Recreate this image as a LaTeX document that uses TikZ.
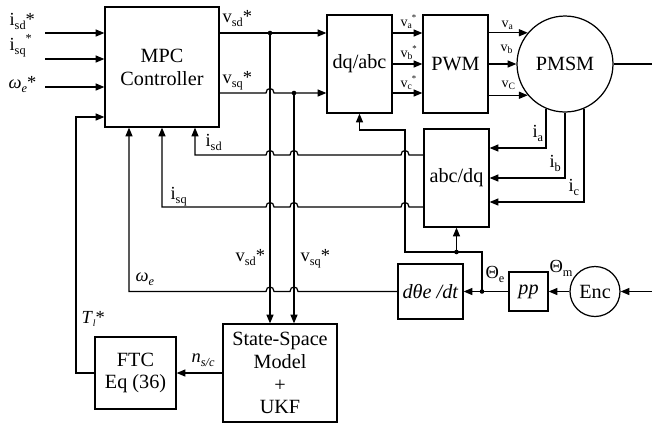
\documentclass[tikz,border=0pt]{standalone}
\usepackage{fontspec}
\setmainfont{Liberation Serif}
\usetikzlibrary{arrows.meta}

\newcommand{\sub}[1]{\raisebox{-0.5ex}{\fontsize{7}{7}\selectfont #1}}
\newcommand{\ssub}[1]{\raisebox{-0.4ex}{\fontsize{5.5}{6}\selectfont #1}}
% small jumps of a horizontal line over a vertical one
\newcommand{\hopl}[2]{-- (#1+4,#2) .. controls (#1+4,#2-6) and (#1-4,#2-6) .. (#1-4,#2)}
\newcommand{\hopr}[2]{-- (#1-4,#2) .. controls (#1-4,#2-6) and (#1+4,#2-6) .. (#1+4,#2)}

\begin{document}
\begin{tikzpicture}[x=0.02cm, y=-0.02cm, line width=0.7pt,
  blk/.style={draw, inner sep=0pt, align=center, font=\fontsize{11.5}{13}\selectfont},
  arr/.style={-{Triangle[length=5pt,width=4pt]}},
  lbl/.style={inner sep=0pt, anchor=base west, font=\fontsize{10.5}{12}\selectfont},
  slbl/.style={inner sep=0pt, anchor=base west, font=\fontsize{8}{9}\selectfont}]

	\useasboundingbox (0,0) rectangle (652,424);

	% blocks
	\node[blk, minimum width=2.28cm, minimum height=2.4cm] (mpc) at (162,67) {MPC\\Controller};
	\node[blk, minimum width=1.3cm, minimum height=1.96cm] (dqabc) at (359.5,64) {dq/abc};
	\node[blk, minimum width=1.3cm, minimum height=1.96cm] (pwm) at (455.5,64) {PWM};
	\node[blk, circle, minimum size=1.92cm] (pmsm) at (565,64) {PMSM};
	\node[blk, minimum width=1.3cm, minimum height=1.96cm] (abcdq) at (456.5,178) {abc/dq};
	\node[blk, minimum width=1.3cm, minimum height=1.1cm] (dth) at (430.5,291.5) {\textit{dθe /dt}};
	\node[blk, minimum size=0.78cm] (pp) at (528.5,291.5) {\textit{pp}};
	\node[blk, circle, minimum size=1cm] (enc) at (595,291.5) {Enc};
	\node[blk, minimum width=2.28cm, minimum height=1.96cm] (ssm) at (280,373) {State-Space\\Model\\+\\UKF};
	\node[blk, minimum width=1.62cm, minimum height=1.44cm] (ftc) at (135.5,373) {FTC\\Eq (36)};

	\coordinate (isdref) at (45,33);
	\coordinate (isqref) at (45,59);
	\coordinate (weref) at (45,87);
	\coordinate (vsd) at (270,33);
	\coordinate (vsq) at (294,93);
	\coordinate (ia) at (546,148);
	\coordinate (ic) at (584,202);
	\coordinate (isd) at (195,155);
	\coordinate (isq) at (162,207);
	\coordinate (we) at (129,291.5);
	\coordinate (the) at (482,291.5);
	\coordinate (tj) at (456.5,252);
	\coordinate (tl) at (76,117);
	\coordinate (shaft) at (652,64);
	\coordinate (encin) at (652,291.5);

	% references
	\draw[arr] (isdref) -- (isdref -| mpc.west);
	\draw[arr] (isqref) -- (isqref -| mpc.west);
	\draw[arr] (weref) -- (weref -| mpc.west);

	% voltage commands
	\draw[arr] (mpc.east |- vsd) -- (vsd -| dqabc.west);
	\draw[arr] (mpc.east |- vsq) \hopr{270}{93} -- (vsq -| dqabc.west);
	\fill (vsd) circle (1.3pt);
	\fill (vsq) circle (1.3pt);
	\draw[arr] (vsd) -- (vsd |- ssm.north);
	\draw[arr] (vsq) -- (vsq |- ssm.north);

	\draw[arr] (dqabc.east |- vsd) -- (pwm.west |- vsd);
	\draw[arr] (dqabc.east) -- (pwm.west);
	\draw[arr] (dqabc.east |- vsq) -- (pwm.west |- vsq);

	\draw[arr] (pwm.east |- pmsm.140) -- (pmsm.140);
	\draw[arr] (pwm.east) -- (pmsm.west);
	\draw[arr] (pwm.east |- pmsm.220) -- (pmsm.220);
	\draw (pmsm.east) -- (shaft);

	% currents
	\draw[arr] (pmsm.247) |- (abcdq.east |- ia);
	\draw[arr] (pmsm.south) |- (abcdq.east);
	\draw[arr] (pmsm.293) |- (abcdq.east |- ic);

	\draw[arr] (abcdq.west |- isd) \hopl{405}{155} \hopl{294}{155} \hopl{270}{155} -- (isd) -- (isd |- mpc.south);
	\draw[arr] (abcdq.west |- isq) \hopl{405}{207} \hopl{294}{207} \hopl{270}{207} -- (isq) -- (isq |- mpc.south);

	% speed and angle
	\draw[arr] (dth.west) \hopl{294}{291.5} \hopl{270}{291.5} -- (we) -- (we |- mpc.south);
	\draw[arr] (pp.west) -- (dth.east);
	\fill (the) circle (1.3pt);
	\draw[arr] (the) |- (405,252) -- (405,130) -| (dqabc.south);
	\fill (tj) circle (1.3pt);
	\draw[arr] (tj) -- (abcdq.south);
	\draw[arr] (enc.west) -- (pp.east);
	\draw[arr] (encin) -- (enc.east);

	% observer and FTC
	\draw[arr] (ssm.west) -- (ftc.east);
	\draw[arr] (ftc.west) -| (tl) -- (tl -| mpc.west);

	% labels
	\node[lbl] at (9,25) {i\sub{sd}*};
	\node[lbl] at (9,50) {i\sub{sq}\raisebox{0.9ex}{\fontsize{7}{7}\selectfont *}};
	\node[lbl] at (8,88) {\textit{ω}\sub{\textit{e}}*};
	\node[lbl] at (222,22) {v\sub{sd}*};
	\node[lbl] at (222,83) {v\sub{sq}*};
	\node[slbl] at (400,26) {v\ssub{a}\raisebox{0.9ex}{\fontsize{5}{5}\selectfont *}};
	\node[slbl] at (400,57) {v\ssub{b}\raisebox{0.9ex}{\fontsize{5}{5}\selectfont *}};
	\node[slbl] at (400,87) {v\ssub{c}\raisebox{0.9ex}{\fontsize{5}{5}\selectfont *}};
	\node[slbl] at (501,27) {v\ssub{a}};
	\node[slbl] at (500,51) {v\ssub{b}};
	\node[slbl] at (501,87) {v\ssub{C}};
	\node[lbl] at (532,137) {i\sub{a}};
	\node[lbl] at (549,167) {i\sub{b}};
	\node[lbl] at (568,191) {i\sub{c}};
	\node[lbl] at (205,146) {i\sub{sd}};
	\node[lbl] at (170,199) {i\sub{sq}};
	\node[lbl] at (235,261) {v\sub{sd}*};
	\node[lbl] at (300,261) {v\sub{sq}*};
	\node[lbl] at (135,281) {\textit{ω}\sub{\textit{e}}};
	\node[lbl] at (81,323) {\textit{T}\ssub{\textit{l}}*};
	\node[lbl] at (191,362) {\textit{n}\sub{\textit{s/c}}};
	\node[lbl] at (485,278) {Θ\sub{e}};
	\node[lbl] at (549,272) {Θ\sub{m}};

\end{tikzpicture}
\end{document}
